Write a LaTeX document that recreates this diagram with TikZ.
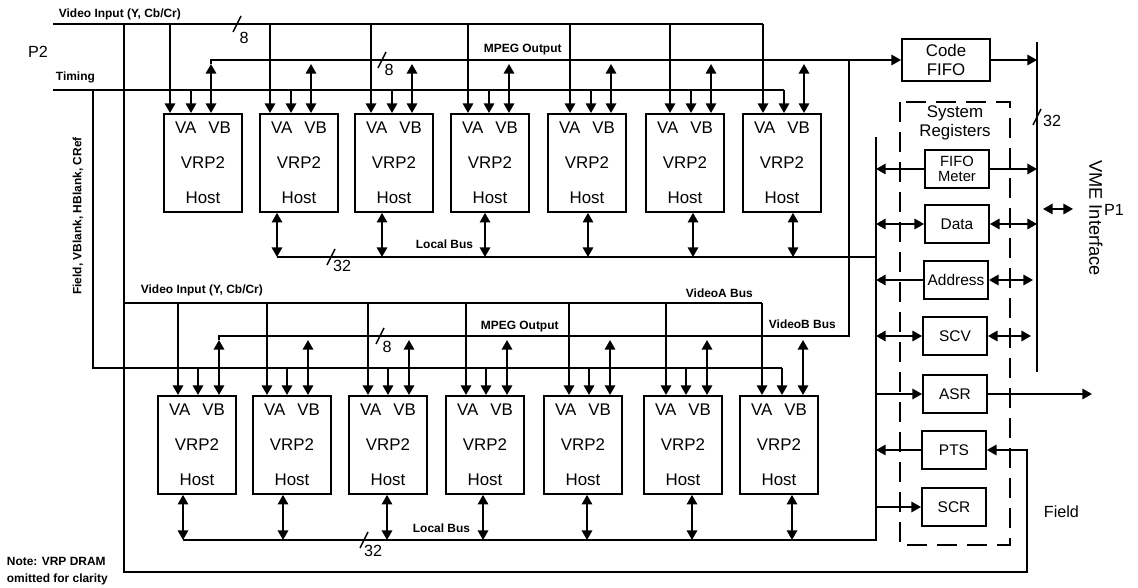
\documentclass[tikz,border=0pt]{standalone}
\usepackage{fontspec}
\setmainfont{Liberation Sans}
\usetikzlibrary{positioning,arrows.meta,calc}
\newcommand{\lbl}{\fontsize{8.5}{12}\selectfont\bfseries}
\newcommand{\boxf}{\fontsize{12}{25}\selectfont}
\newcommand{\regf}{\fontsize{11}{12}\selectfont}
\newcommand{\bigf}{\fontsize{12}{13}\selectfont}
\newcommand{\numf}{\fontsize{11.5}{12}\selectfont}

\begin{document}
\begin{tikzpicture}[
  x=0.25mm, y=-0.25mm, line width=1.3pt,
  vrp/.style={draw, rectangle, anchor=north west, minimum width=19.5mm, minimum height=24.5mm,
              inner sep=0pt, align=center, font=\boxf},
  reg/.style={draw, rectangle, minimum width=16mm, minimum height=9.5mm, inner sep=0pt,
              align=center, font=\regf},
  ar/.style={-{Triangle[length=2.4mm,width=2.6mm]}},
  dar/.style={{Triangle[length=2.4mm,width=2.6mm]}-{Triangle[length=2.4mm,width=2.6mm]}},
  tick/.style={line width=1pt},
  lb/.style={font=\lbl, anchor=base west, inner sep=0pt},
  num/.style={font=\numf, inner sep=0pt},
]
\useasboundingbox (0,0) rectangle (1138,588);
% bus rails (x or y taken from these)
\coordinate (vidT) at (53,24);   \coordinate (timT) at (53,90);   \coordinate (mpT) at (0,60);
\coordinate (vidB) at (124,303); \coordinate (timB) at (93,368);  \coordinate (mpB) at (0,336);
\coordinate (lbT) at (0,257);    \coordinate (lbB) at (0,540);
\coordinate (rbT) at (876,137);  \coordinate (rbB) at (876,540);
\coordinate (vmeT) at (1037,42); \coordinate (vmeB) at (1037,372);

% ---------------- top bank of VRP2 boards ----------------
\foreach \i/\px/\o in {1/163/7,2/259/11,3/354/17,4/450/18,5/547/23,6/645/25,7/742/21}{
  \node[vrp] (t\i) at (\px,113) {VA\hspace{3mm}VB\\VRP2\\Host};
  \coordinate (ta\i) at ($(t\i.north west)+(\o,0)$);
  \coordinate (tm\i) at ($(ta\i)+(21,0)$);
  \coordinate (tb\i) at ($(ta\i)+(41,0)$);
  \draw[ar] (ta\i |- vidT) -- (ta\i);
  \draw[ar] (tm\i |- timT) -- (tm\i);
  \draw[dar] ($(tb\i |- mpT)+(0,4)$) -- (tb\i);
}
\foreach \i/\o in {2/18,3/28,4/35,5/41,6/48,7/51}{
  \coordinate (tl\i) at ($(t\i.south west)+(\o,0)$);
  \draw[dar] (tl\i) -- (tl\i |- lbT);
}

% ---------------- bottom bank of VRP2 boards ----------------
\foreach \i/\px/\o/\l in {1/157/21/26,2/252/15/31,3/348/20/39,4/445/21/38,5/543/26/44,6/643/23/49,7/739/23/53}{
  \node[vrp] (b\i) at (\px,395) {VA\hspace{3mm}VB\\VRP2\\Host};
  \coordinate (ba\i) at ($(b\i.north west)+(\o,0)$);
  \coordinate (bm\i) at ($(ba\i)+(20,0)$);
  \coordinate (bb\i) at ($(ba\i)+(41,0)$);
  \coordinate (bl\i) at ($(b\i.south west)+(\l,0)$);
  \draw[ar] (ba\i |- vidB) -- (ba\i);
  \draw[ar] (bm\i |- timB) -- (bm\i);
  \draw[dar] ($(bb\i |- mpB)+(0,4)$) -- (bb\i);
  \draw[dar] (bl\i) -- (bl\i |- lbB);
}

% ---------------- right side: FIFO, registers, VME ----------------
\node[draw, minimum width=22mm, minimum height=10.5mm, inner sep=0pt, align=center, font=\bigf] (fifo) at (946,60) {Code\\FIFO};
\node[reg, font=\fontsize{10.5}{10.5}\selectfont] (fm) at (957,169) {FIFO\\Meter};
\node[reg] (dat) at (957,224) {Data};
\node[reg] (adr) at (956,280) {Address};
\node[reg] (scv) at (955,336) {SCV};
\node[reg] (asr) at (955,394) {ASR};
\node[reg] (pts) at (954,450) {PTS};
\node[reg] (scr) at (954,507) {SCR};
\draw[line width=1pt, dash pattern=on 5mm off 2.5mm] (900,102) rectangle (1010,545);
\node[font=\bigf, align=center] (sysreg) at (955,123) {System\\Registers};

% buses
\draw (vidT) -- (ta7 |- vidT);
\draw (timT) -- (tm7 |- timT);
\draw[ar] ($(tb1 |- mpT)+(0,4)$) -- (tb1 |- mpT) -- (fifo.west);
\coordinate (vbx) at (849,60);
\draw (vbx) |- (bb1 |- mpB) -- ++(0,4);
\draw (vidB) -- (ba7 |- vidB);
\draw (93,90) |- (bm7 |- timB);
\coordinate (fldA) at (124,24); \coordinate (fldB) at (1027,572);
\draw[ar] (fldA) |- (fldB) |- (pts.east);
\draw (tl2 |- lbT) -- (lbT -| rbT);
\draw (rbT) -- (rbB) -- (bl1 |- lbB);
\draw (vmeT) -- (vmeB);

\draw[ar] (fifo.east) -- (fifo.east -| vmeT);
\draw[ar] (fm.west) -- (fm.west -| rbT);
\draw[ar] (fm.east) -- (fm.east -| vmeT);
\draw[dar] (dat.west -| rbT) -- (dat.west);
\draw[dar] (dat.east) -- (dat.east -| vmeT);
\draw[ar] (adr.west) -- (adr.west -| rbT);
\draw[dar] (adr.east) -- ($(adr.east -| vmeT)+(-4,0)$);
\draw[dar] (scv.west -| rbT) -- (scv.west);
\draw[dar] (scv.east) -- ($(scv.east -| vmeT)+(-6,0)$);
\draw[ar] (asr.west -| rbT) -- (asr.west);
\coordinate (asrOut) at (1092,394);
\draw[ar] (asr.east) -- (asrOut);
\draw[ar] (pts.west) -- (pts.west -| rbT);
\draw[ar] (scr.west -| rbT) -- (scr.west);

% bus widths
\draw[tick] (237,24) ++(-4,8) -- ++(8,-16);
\draw[tick] (382,60) ++(-4,8) -- ++(8,-16);
\draw[tick] (331,257) ++(-4,8) -- ++(8,-16);
\draw[tick] (380,336) ++(-4,8) -- ++(8,-16);
\draw[tick] (364,540) ++(-4,8) -- ++(8,-16);
\draw[tick] (1037,117) ++(-4,8) -- ++(8,-16);
\node[num] (w1) at (244,38) {8};
\node[num] (w2) at (389,70) {8};
\node[num] (w3) at (342,266) {32};
\node[num] (w4) at (387,347) {8};
\node[num] (w5) at (373,551) {32};
\node[num] (w6) at (1052,121) {32};

% labels
\node[font=\numf] (p2) at (38,52) {P2};
\node[lb] (vidTl) at (58,18) {Video Input (Y, Cb/Cr)};
\node[lb] (timTl) at (55,81) {Timing};
\node[lb] (mpTl) at (483,53) {MPEG Output};
\node[lb] (lbTl) at (415,249) {Local Bus};
\node[lb] (vidBl) at (140,294) {Video Input (Y, Cb/Cr)};
\node[lb] (mpBl) at (480,330) {MPEG Output};
\node[lb] (vaBl) at (685,298) {VideoA Bus};
\node[lb] (vbBl) at (768,329) {VideoB Bus};
\node[lb] (lbBl) at (412,532) {Local Bus};
\node[font=\lbl, rotate=90] (fvh) at (78,216) {Field, VBlank, HBlank, CRef};
\node[font=\lbl, align=left, anchor=north west, inner sep=0pt] (note) at (6,556) {Note: VRP DRAM\\omitted for clarity};
\node[font=\fontsize{13}{13}\selectfont, rotate=-90] (vmeif) at (1096,218) {VME Interface};
\node[font=\numf] (p1) at (1114,210) {P1};
\coordinate (p1a) at (1043,209); \coordinate (p1b) at (1073,209);
\draw[dar] (p1a) -- (p1b);
\node[font=\numf, anchor=base west, inner sep=0pt] (fld) at (1043,517) {Field};
\end{tikzpicture}
\end{document}
